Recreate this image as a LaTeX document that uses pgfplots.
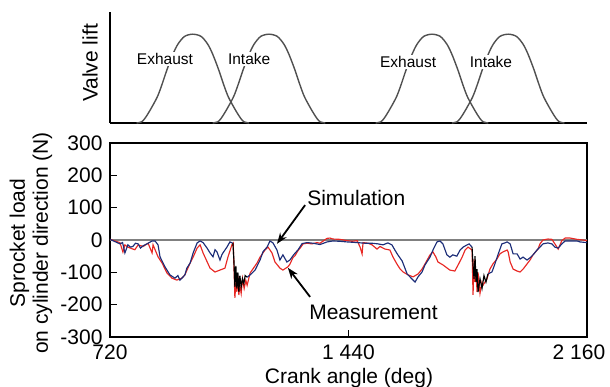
\documentclass[border=0pt]{standalone}
\usepackage{fontspec}
\setmainfont{Liberation Sans}
\usepackage{pgfplots}
\pgfplotsset{compat=1.18}
\usetikzlibrary{arrows.meta}
\definecolor{measred}{RGB}{232,40,36}
\definecolor{simnavy}{RGB}{28,45,120}
\definecolor{valvegray}{RGB}{80,80,80}
\newcommand{\bigfont}{\fontsize{21}{23}\selectfont}
\begin{document}
\begin{tikzpicture}
\path[use as bounding box] (0,0) rectangle (610pt,387pt);
% ---------------- top: valve lift ----------------
\begin{axis}[at={(110pt,264pt)}, anchor=south west, scale only axis,
  width=477pt, height=111pt, xmin=720, xmax=2160, ymin=0, ymax=1,
  axis x line=bottom, axis y line=left,
  axis line style={line width=1.6pt, -},
  xtick=\empty, ytick=\empty, clip=false]
\addplot[valvegray, line width=1.4pt, smooth] coordinates {
(800,0)(815,0.01)(825,0.04)(840,0.11)(862,0.23)(875,0.33)(892,0.48)(910,0.62)(925,0.71)(945,0.78)(970,0.80)
(995,0.78)(1015,0.71)(1030,0.62)(1048,0.48)(1065,0.33)(1078,0.23)(1100,0.11)(1115,0.04)(1125,0.01)(1140,0)};
\addplot[valvegray, line width=1.4pt, smooth] coordinates {
(1030,0)(1045,0.01)(1055,0.04)(1070,0.11)(1092,0.23)(1105,0.33)(1122,0.48)(1140,0.62)(1155,0.71)(1175,0.78)(1200,0.80)
(1225,0.78)(1245,0.71)(1260,0.62)(1278,0.48)(1295,0.33)(1308,0.23)(1330,0.11)(1345,0.04)(1355,0.01)(1370,0)};
\addplot[valvegray, line width=1.4pt, smooth] coordinates {
(1522,0)(1537,0.01)(1547,0.04)(1562,0.11)(1584,0.23)(1597,0.33)(1614,0.48)(1632,0.62)(1647,0.71)(1667,0.78)(1692,0.80)
(1717,0.78)(1737,0.71)(1752,0.62)(1770,0.48)(1787,0.33)(1800,0.23)(1822,0.11)(1837,0.04)(1847,0.01)(1862,0)};
\addplot[valvegray, line width=1.4pt, smooth] coordinates {
(1752,0)(1767,0.01)(1777,0.04)(1792,0.11)(1814,0.23)(1827,0.33)(1844,0.48)(1862,0.62)(1877,0.71)(1897,0.78)(1922,0.80)
(1947,0.78)(1967,0.71)(1982,0.62)(2000,0.48)(2017,0.33)(2030,0.23)(2052,0.11)(2067,0.04)(2077,0.01)(2092,0)};
\node[fill=white, inner sep=1.5pt, font=\fontsize{15.5}{17}\selectfont] at (axis cs:886,0.577) {Exhaust};
\node[fill=white, inner sep=1.5pt, font=\fontsize{15.5}{17}\selectfont] at (axis cs:1140,0.577) {Intake};
\node[fill=white, inner sep=1.5pt, font=\fontsize{15.5}{17}\selectfont] at (axis cs:1620,0.55) {Exhaust};
\node[fill=white, inner sep=1.5pt, font=\fontsize{15.5}{17}\selectfont] at (axis cs:1870,0.55) {Intake};
\end{axis}
\node[rotate=90, font=\bigfont] at (90pt,324pt) {Valve lift};
% ---------------- bottom: sprocket load ----------------
\begin{axis}[at={(110pt,50pt)}, anchor=south west, scale only axis,
  width=477pt, height=194pt, xmin=720, xmax=2160, ymin=-300, ymax=300,
  xtick={720,1440,2160}, xticklabels={720,{1 440},{\hspace*{-16pt}2 160}},
  ytick={-300,-200,-100,0,100,200,300},
  yticklabels={-300,-200,-100,0,100,200,300},
  tick align=inside, xtick pos=bottom, ytick pos=left,
  major tick length=7pt,
  axis line style={line width=1.6pt},
  tick style={line width=1.2pt, black},
  tick label style={font=\bigfont},
  xticklabel style={yshift=-4pt},
  yticklabel style={xshift=-4pt},
  clip=false]
\addplot[gray, line width=1.3pt] coordinates {(720,0)(2160,0)};
\addplot[measred, line width=1.15pt] coordinates {
(720,2)(735,-3)(750,-8)(759,-37)(765,-15)(774,-22)(789,-28)(795,-30)(805,-15)(820,-20)
(835,-10)(841,-25)(847,-40)(850,-15)(865,-52)(877,-71)(892,-102)(907,-118)(922,-124)(937,-118)
(946,-108)(962,-71)(971,-53)(983,-25)(992,-15)(1001,-40)(1013,-67)(1022,-87)(1037,-99)(1052,-93)
(1067,-87)(1076,-53)(1088,-15)(1092,-10)(1097,-179)(1100,-130)(1103,-160)(1106,-110)(1109,-170)(1112,-140)
(1116,-165)(1120,-120)(1125,-150)(1130,-125)(1134,-140)(1143,-102)(1164,-71)(1173,-53)(1188,-31)(1197,-22)
(1209,-40)(1218,-68)(1233,-87)(1242,-93)(1257,-83)(1263,-75)(1272,-55)(1279,-48)(1288,-32)(1294,-25)
(1303,-12)(1315,-10)(1330,-12)(1345,-8)(1354,-10)(1375,5)(1384,6)(1393,3)(1414,2)(1436,-2)
(1451,-4)(1466,-2)(1475,-22)(1481,-43)(1484,-8)(1499,-10)(1511,-15)(1526,-28)(1535,-20)(1550,-28)
(1565,-31)(1574,-52)(1586,-74)(1596,-90)(1605,-99)(1620,-108)(1635,-114)(1650,-105)(1662,-90)(1671,-74)
(1686,-46)(1695,-37)(1704,-53)(1710,-68)(1725,-77)(1746,-93)(1761,-96)(1771,-77)(1783,-53)(1792,-31)
(1801,-22)(1813,-31)(1816,-170)(1819,-60)(1822,-130)(1825,-90)(1828,-160)(1831,-100)(1837,-165)(1843,-130)
(1846,-140)(1858,-120)(1867,-90)(1876,-74)(1888,-59)(1897,-43)(1906,-37)(1919,-31)(1922,-37)(1928,-68)
(1937,-90)(1949,-96)(1958,-99)(1967,-90)(1979,-74)(1988,-62)(1997,-46)(2012,-28)(2018,-12)(2027,0)
(2042,3)(2054,2)(2063,-12)(2073,-28)(2084,-2)(2094,6)(2109,6)(2130,2)(2148,0)(2160,-2)};
\addplot[simnavy, line width=1.15pt] coordinates {
(720,2)(735,-5)(750,-12)(758,-8)(765,-40)(774,-15)(782,-22)(789,-20)(797,-10)(805,-12)
(812,-25)(820,-18)(835,-10)(847,-3)(856,-3)(865,-15)(871,-52)(886,-83)(901,-108)(916,-118)
(925,-110)(931,-124)(940,-115)(946,-108)(952,-87)(962,-71)(971,-40)(983,-9)(992,-3)(1001,-8)
(1013,-25)(1022,-40)(1031,-52)(1037,-30)(1043,-37)(1052,-62)(1058,-45)(1061,-40)(1073,-22)(1082,-6)(1091,-10)};
\addplot[black, line width=1.15pt] coordinates {
(1091,-10)(1094,-60)(1097,-145)(1100,-80)(1103,-150)(1106,-100)(1109,-160)(1112,-110)(1116,-145)(1120,-120)
(1124,-135)(1128,-110)(1134,-115)};
\addplot[simnavy, line width=1.15pt] coordinates {
(1134,-115)(1143,-108)(1158,-93)(1173,-62)(1182,-36)(1194,-22)(1203,-3)(1212,-9)(1224,-31)(1233,-62)
(1242,-46)(1254,-68)(1263,-62)(1275,-45)(1288,-30)(1300,-11)(1315,-8)(1333,-10)(1354,-14)(1375,-6)
(1393,-3)(1414,-4)(1436,-6)(1466,-8)(1490,-10)(1511,-10)(1529,-12)(1544,-15)(1559,-9)(1571,-15)
(1580,-31)(1589,-46)(1602,-65)(1617,-105)(1632,-121)(1641,-130)(1650,-114)(1662,-99)(1671,-77)(1686,-53)
(1695,-31)(1707,-6)(1716,-3)(1725,-12)(1737,-46)(1746,-53)(1755,-46)(1767,-50)(1777,-31)(1786,-22)
(1798,-15)(1804,-12)(1813,-22)};
\addplot[black, line width=1.15pt] coordinates {
(1813,-22)(1816,-80)(1819,-120)(1822,-50)(1825,-130)(1828,-90)(1831,-161)(1837,-120)(1843,-150)(1849,-110)
(1855,-130)(1861,-105)};
\addplot[simnavy, line width=1.15pt] coordinates {
(1861,-105)(1873,-99)(1882,-74)(1891,-46)(1903,-12)(1912,-9)(1919,-6)(1928,-12)(1937,-43)(1949,-43)
(1958,-59)(1967,-53)(1979,-62)(1988,-55)(1997,-46)(2009,-31)(2018,-22)(2027,-12)(2042,-9)(2054,-12)
(2063,-22)(2073,-25)(2084,-12)(2094,-3)(2109,-3)(2130,-3)(2139,-6)(2160,-8)};
\node[anchor=west, font=\bigfont, inner sep=0pt] at (axis cs:1315,130) {Simulation};
\node[anchor=west, font=\bigfont, inner sep=0pt] at (axis cs:1321,-223) {Measurement};
\draw[line width=1.8pt, -{Stealth[length=11pt, width=8pt]}] (axis cs:1309,108) -- (axis cs:1224,-12);
\draw[line width=1.8pt, -{Stealth[length=11pt, width=8pt]}] (axis cs:1324,-176) -- (axis cs:1257,-86);
\end{axis}
\node[rotate=90, font=\bigfont, align=center] at (31pt,144pt) {Sprocket load\\on cylinder direction (N)};
\node[font=\bigfont] at (349pt,9pt) {Crank angle (deg)};
\end{tikzpicture}
\end{document}
